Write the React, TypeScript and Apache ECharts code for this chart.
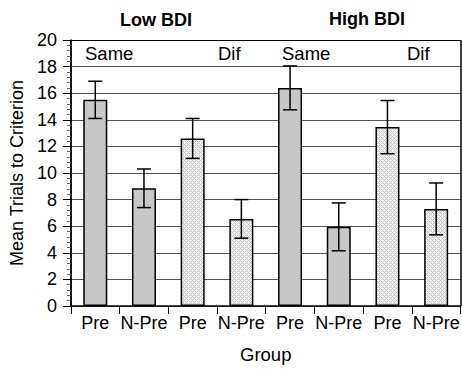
import React, { useEffect, useRef } from "react";
import * as echarts from "echarts";

const groups = ["Pre", "N-Pre", "Pre", "N-Pre", "Pre", "N-Pre", "Pre", "N-Pre"];
const means = [15.5, 8.85, 12.6, 6.55, 16.4, 5.95, 13.45, 7.3];
const errors = [1.4, 1.45, 1.5, 1.45, 1.65, 1.8, 2.0, 1.95];
const hatched = [false, false, true, true, false, false, true, true];
const yTicks = [0, 2, 4, 6, 8, 10, 12, 14, 16, 18, 20];

const FONT = "'Liberation Sans', Arial, Helvetica, sans-serif";

function makePattern(): HTMLCanvasElement {
  const c = document.createElement("canvas");
  c.width = 4;
  c.height = 4;
  const ctx = c.getContext("2d")!;
  ctx.fillStyle = "#f4f4f4";
  ctx.fillRect(0, 0, 4, 4);
  ctx.fillStyle = "#c6c6c6";
  for (let x = 0; x < 4; x++) {
    for (let y = 0; y < 4; y++) {
      if ((x + y) % 4 === 0 || (((x - y) % 4) + 4) % 4 === 0) ctx.fillRect(x, y, 1, 1);
    }
  }
  return c;
}

export default function App() {
  const ref = useRef<HTMLDivElement>(null);
  useEffect(() => {
    document.body.style.margin = "0";
    const chart = echarts.init(ref.current!, null, { renderer: "svg" });
    const pattern = makePattern();
    const splitColors = yTicks.map((v) => (v === 20 ? "#000" : "#555"));
    chart.setOption({
      animation: false,
      grid: { left: 65, top: 40, right: -3, bottom: 62 },
      xAxis: {
        type: "category",
        data: groups,
        boundaryGap: true,
        axisLine: { lineStyle: { color: "#000", width: 1.5 } },
        axisTick: { show: true, length: 8, lineStyle: { color: "#000", width: 1 } },
        axisLabel: { color: "#000", fontSize: 18, fontFamily: FONT, margin: 8, interval: 0 },
        splitLine: {
          show: true,
          interval: (i: number) => i === 4,
          lineStyle: { color: "#000", width: 1.5 },
        },
        name: "Group",
        nameLocation: "middle",
        nameGap: 39,
        nameTextStyle: { color: "#000", fontSize: 18.5, fontFamily: FONT },
      },
      yAxis: {
        type: "value",
        min: 0,
        max: 20,
        interval: 2,
        axisLine: { show: true, lineStyle: { color: "#000", width: 1.5 } },
        axisTick: { show: true, length: 8, lineStyle: { color: "#000" } },
        minorTick: { show: true, splitNumber: 5, length: 4, lineStyle: { color: "#666" } },
        axisLabel: { color: "#000", fontSize: 18, fontFamily: FONT, margin: 14 },
        splitLine: { show: true, lineStyle: { color: splitColors, width: 1.2 } },
        name: "Mean Trials to Criterion",
        nameLocation: "middle",
        nameGap: 40,
        nameTextStyle: { color: "#000", fontSize: 18, fontFamily: FONT },
      },
      graphic: [
        { type: "text", x: 156, y: 20, style: { text: "Low BDI", font: `bold 18px ${FONT}`, fill: "#000", align: "center", verticalAlign: "middle" } },
        { type: "text", x: 367, y: 19, style: { text: "High BDI", font: `bold 18px ${FONT}`, fill: "#000", align: "center", verticalAlign: "middle" } },
        { type: "text", x: 85, y: 53, style: { text: "Same", font: `18.5px ${FONT}`, fill: "#000", verticalAlign: "middle" } },
        { type: "text", x: 218, y: 53, style: { text: "Dif", font: `18.5px ${FONT}`, fill: "#000", verticalAlign: "middle" } },
        { type: "text", x: 282, y: 53, style: { text: "Same", font: `18.5px ${FONT}`, fill: "#000", verticalAlign: "middle" } },
        { type: "text", x: 407, y: 53, style: { text: "Dif", font: `18.5px ${FONT}`, fill: "#000", verticalAlign: "middle" } },
      ],
      series: [
        {
          type: "bar",
          barWidth: 24,
          data: means.map((v, i) => ({
            value: v,
            itemStyle: {
              color: hatched[i] ? { image: pattern, repeat: "repeat" } : "#c8c8c8",
              borderColor: "#000",
              borderWidth: 1.5,
            },
          })),
        },
        {
          type: "custom",
          data: means.map((v, i) => [i, v - errors[i], v + errors[i]]),
          renderItem: (params: any, api: any) => {
            const lo = api.coord([api.value(0), api.value(1)]);
            const hi = api.coord([api.value(0), api.value(2)]);
            const hw = 7;
            const style = { stroke: "#000", lineWidth: 1.5 };
            return {
              type: "group",
              children: [
                { type: "line", shape: { x1: lo[0], y1: lo[1], x2: hi[0], y2: hi[1] }, style },
                { type: "line", shape: { x1: hi[0] - hw, y1: hi[1], x2: hi[0] + hw, y2: hi[1] }, style },
                { type: "line", shape: { x1: lo[0] - hw, y1: lo[1], x2: lo[0] + hw, y2: lo[1] }, style },
              ],
            };
          },
          z: 10,
        },
      ],
    });
    return () => chart.dispose();
  }, []);
  return <div ref={ref} style={{ width: 462, height: 369 }} />;
}
